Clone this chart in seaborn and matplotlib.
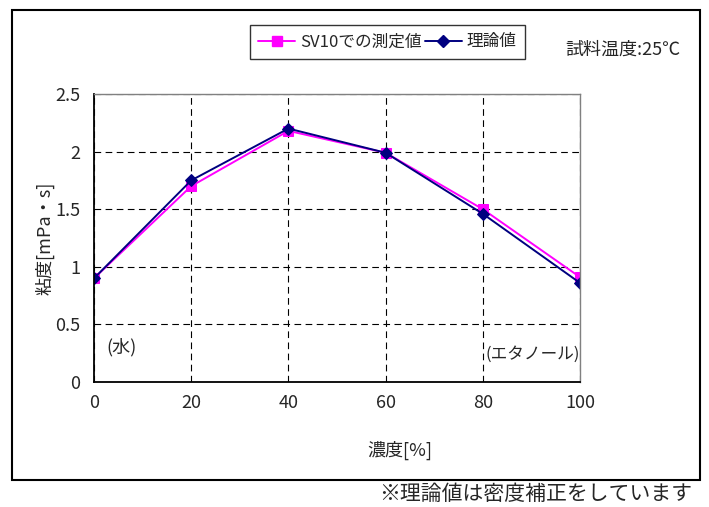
import matplotlib
matplotlib.use("Agg")
import matplotlib.pyplot as plt
from matplotlib.patches import Rectangle
from matplotlib.lines import Line2D
import seaborn as sns
import pandas as pd

# Concentration of ethanol [%] and viscosity [mPa·s]
concentration = [0, 20, 40, 60, 80, 100]
sv10_measured = [0.90, 1.70, 2.18, 1.99, 1.50, 0.91]
theoretical = [0.90, 1.75, 2.20, 1.99, 1.46, 0.86]
series_names = ["SV10での測定値", "理論値"]
x_ticks = [0, 20, 40, 60, 80, 100]
y_ticks = [0, 0.5, 1, 1.5, 2, 2.5]
y_tick_labels = ["0", "0.5", "1", "1.5", "2", "2.5"]

sns.set_theme(style="white")
plt.rcParams["font.family"] = ["Noto Sans CJK JP", "DejaVu Sans"]

df = pd.DataFrame({
    "concentration": concentration * 2,
    "viscosity": sv10_measured + theoretical,
    "series": [series_names[0]] * len(concentration) + [series_names[1]] * len(concentration),
})

fig = plt.figure(figsize=(7.09, 5.07), dpi=100)
ax = fig.add_axes([94 / 709, 1 - 382 / 507, 486 / 709, 288 / 507])

colors = {series_names[0]: "#FF00FF", series_names[1]: "#000080"}
markers = {series_names[0]: "s", series_names[1]: "D"}
sizes = {series_names[0]: 7, series_names[1]: 6}

for name in series_names:
    sub = df[df["series"] == name]
    sns.lineplot(data=sub, x="concentration", y="viscosity", ax=ax,
                 color=colors[name], marker=markers[name],
                 markersize=sizes[name], markeredgecolor=colors[name],
                 linewidth=1.4, legend=False)

ax.set_xlim(0, 100)
ax.set_ylim(0, 2.5)
ax.set_xticks(x_ticks)
ax.set_yticks(y_ticks)
ax.set_xticklabels([str(v) for v in x_ticks], fontsize=13)
ax.set_yticklabels(y_tick_labels, fontsize=13)
ax.tick_params(axis="x", pad=9, length=0)
ax.tick_params(axis="y", pad=10, length=0)
ax.set_xlabel("")
ax.set_ylabel("")
ax.grid(True, color="black", linestyle=(0, (6, 4)), linewidth=0.8)
ax.set_axisbelow(True)
for side in ["left", "bottom"]:
    ax.spines[side].set_color("black")
    ax.spines[side].set_linewidth(1.3)
for side in ["top", "right"]:
    ax.spines[side].set_color("#808080")
    ax.spines[side].set_linewidth(1.0)

ax.text(2.5, 0.3, "(水)", fontsize=13, ha="left", va="center")
ax.text(100, 0.24, "(エタノール)", fontsize=12, ha="right", va="center")

fig.text(45 / 709, 1 - 238 / 507, "粘度[mPa・s]", rotation=90,
         fontsize=13, ha="center", va="center")
fig.text(400 / 709, 1 - 450 / 507, "濃度[%]", fontsize=13,
         ha="center", va="center")
fig.text(623 / 709, 1 - 50 / 507, "試料温度:25℃", fontsize=13,
         ha="center", va="center")
fig.text(692 / 709, 1 - 494 / 507, "※理論値は密度補正をしています",
         fontsize=15, ha="right", va="center")

handles = [Line2D([], [], color=colors[n], marker=markers[n],
                  markersize=sizes[n], linewidth=1.4) for n in series_names]
leg = fig.legend(handles, series_names, loc="upper left",
                 bbox_to_anchor=(250 / 709, 1 - 25 / 507), ncol=2,
                 fontsize=12, frameon=True, fancybox=False,
                 edgecolor="black", handlelength=2.2, handletextpad=0.3,
                 columnspacing=0.2, borderpad=0.5, borderaxespad=0)
leg.get_frame().set_linewidth(1.0)

fig.add_artist(Rectangle((12 / 709, 1 - 480 / 507), 688 / 709, 470 / 507,
                         transform=fig.transFigure, fill=False,
                         edgecolor="black", linewidth=1.5))

fig.savefig("out.png", dpi=100)
